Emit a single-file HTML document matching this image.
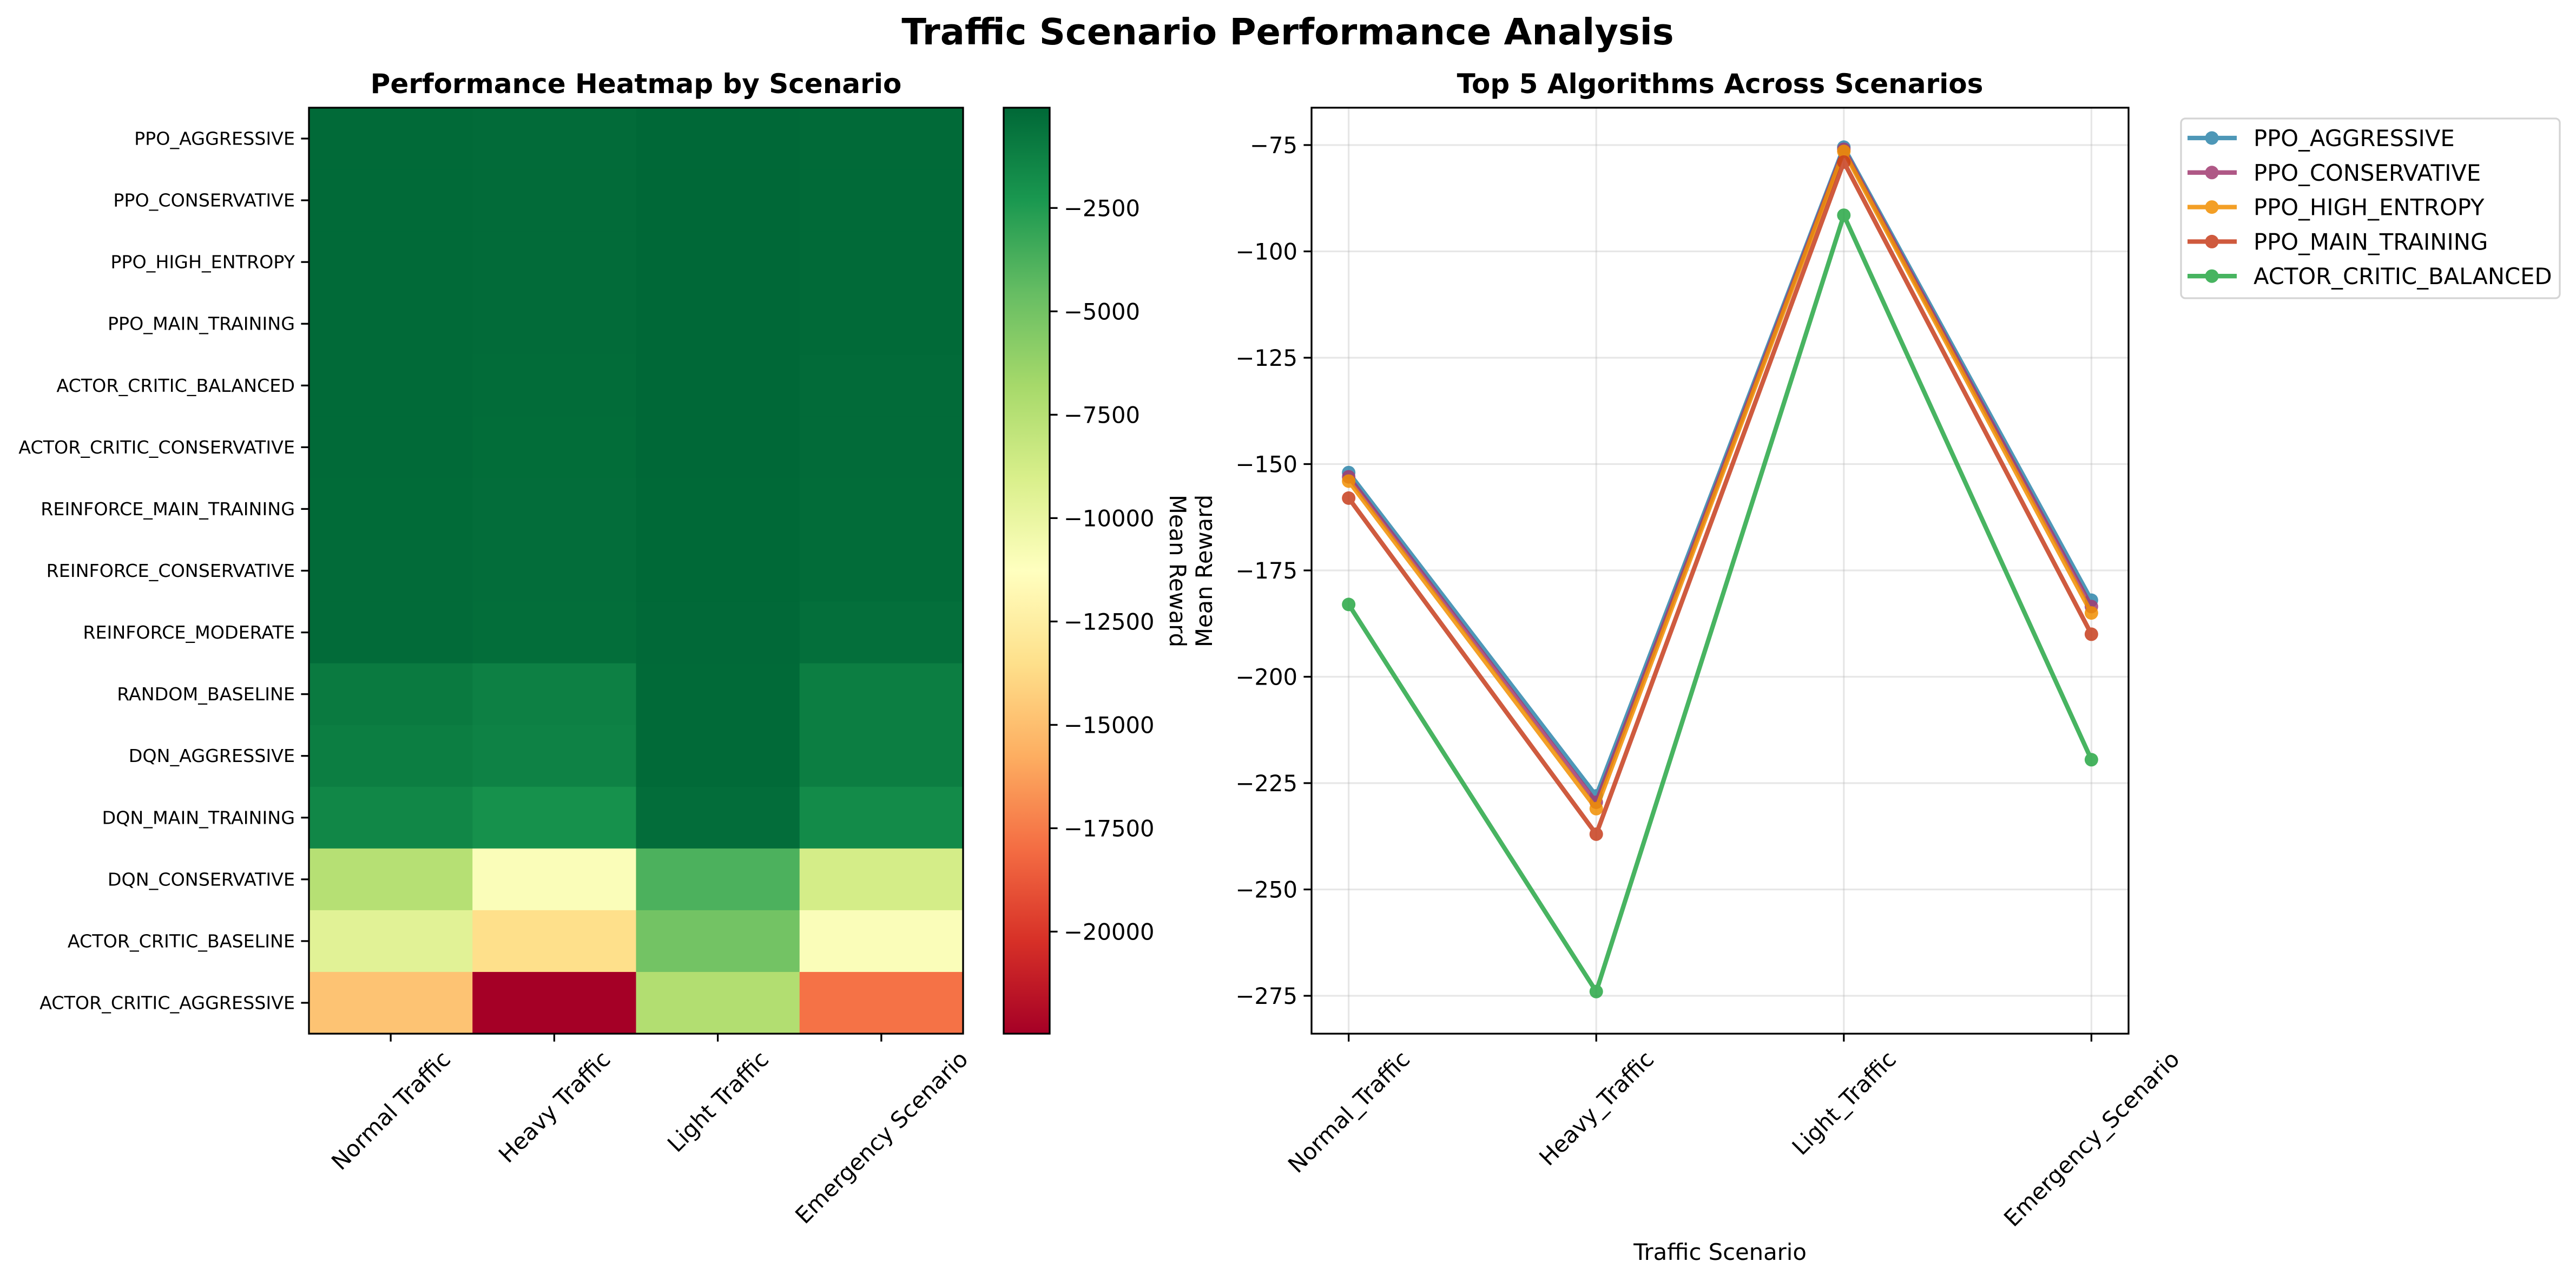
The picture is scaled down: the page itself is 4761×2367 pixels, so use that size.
<!DOCTYPE html>
<html><head><meta charset="utf-8"><style>
html,body{margin:0;padding:0;background:#fff;}
svg{display:block;font-family:"DejaVu Sans","Liberation Sans",sans-serif;}
</style></head><body>
<svg id="fig" width="4761" height="2367" viewBox="0 0 4761 2367" xmlns="http://www.w3.org/2000/svg">
<rect width="4761" height="2367" fill="#fff"/>
<text x="2380" y="82" font-size="67" font-weight="bold" text-anchor="middle">Traffic Scenario Performance Analysis</text>
<g id="heat"></g>
<g id="cbar"></g>
<g id="line"></g>
</svg>
<script>
// ---------- data ----------
const algorithms = ["PPO_AGGRESSIVE","PPO_CONSERVATIVE","PPO_HIGH_ENTROPY","PPO_MAIN_TRAINING","ACTOR_CRITIC_BALANCED","ACTOR_CRITIC_CONSERVATIVE","REINFORCE_MAIN_TRAINING","REINFORCE_CONSERVATIVE","REINFORCE_MODERATE","RANDOM_BASELINE","DQN_AGGRESSIVE","DQN_MAIN_TRAINING","DQN_CONSERVATIVE","ACTOR_CRITIC_BASELINE","ACTOR_CRITIC_AGGRESSIVE"];
const heatScenarios = ["Normal Traffic","Heavy Traffic","Light Traffic","Emergency Scenario"];
const heatNormal = [-152,-153,-154,-158,-183,-190,-200,-210,-230,-900,-1100,-1500,-7500,-9500,-14800];
const heatHeavy = [-228,-229,-231,-237,-274,-290,-300,-320,-350,-1200,-1300,-2000,-11000,-13500,-22468];
const heatLight = [-75,-76,-77,-79,-92,-95,-100,-105,-120,-180,-180,-300,-3800,-5000,-7300];
const heatEmergency = [-182,-184,-185,-190,-219,-230,-240,-250,-400,-1100,-1100,-1700,-8800,-11000,-17800];
const cbarTicks = [-2500,-5000,-7500,-10000,-12500,-15000,-17500,-20000];

const lineScenarios = ["Normal_Traffic","Heavy_Traffic","Light_Traffic","Emergency_Scenario"];
const seriesNames = ["PPO_AGGRESSIVE","PPO_CONSERVATIVE","PPO_HIGH_ENTROPY","PPO_MAIN_TRAINING","ACTOR_CRITIC_BALANCED"];
const ppoAggressive = [-152,-228,-75.5,-182];
const ppoConservative = [-153,-229.5,-76,-183.5];
const ppoHighEntropy = [-154,-231,-76.5,-185];
const ppoMainTraining = [-158,-237,-79,-190];
const actorCriticBalanced = [-183,-274,-91.5,-219.5];
const yTicks = [-75,-100,-125,-150,-175,-200,-225,-250,-275];

const NS="http://www.w3.org/2000/svg";
function mk(parent,tag,attrs,text){const e=document.createElementNS(NS,tag);for(const k in attrs)e.setAttribute(k,attrs[k]);if(text!==undefined)e.textContent=text;parent.appendChild(e);return e;}

// RdYlGn
const RdYlGn=["#a50026","#d73027","#f46d43","#fdae61","#fee08b","#ffffbf","#d9ef8b","#a6d96a","#66bd63","#1a9850","#006837"];
function hex2(c){return [parseInt(c.substr(1,2),16),parseInt(c.substr(3,2),16),parseInt(c.substr(5,2),16)];}
function cmap(t){t=Math.max(0,Math.min(1,t));const p=t*10,i=Math.min(9,Math.floor(p)),f=p-i;const a=hex2(RdYlGn[i]),b=hex2(RdYlGn[i+1]);return "rgb("+a.map((v,k)=>Math.round(v+(b[k]-v)*f)).join(",")+")";}

// ---------- heatmap ----------
const H=document.getElementById('heat');
const hx0=571,hx1=1780,hy0=199,hy1=1910;
const vmin=-22468,vmax=-75;
const cols=[heatNormal,heatHeavy,heatLight,heatEmergency];
const cw=(hx1-hx0)/heatScenarios.length, rh=(hy1-hy0)/algorithms.length;
const hX=j=>hx0+j*cw, hY=i=>hy0+i*rh;
mk(H,'text',{x:(hx0+hx1)/2,y:172,'font-size':50,'font-weight':'bold','text-anchor':'middle',},'Performance Heatmap by Scenario');
cols.forEach((col,j)=>{col.forEach((v,i)=>{
  const r=mk(H,'rect',{x:hX(j),y:hY(i),width:cw+0.6,height:rh+0.6,fill:cmap((v-vmin)/(vmax-vmin))});
  
  
});});
mk(H,'rect',{x:hx0,y:hy0,width:hx1-hx0,height:hy1-hy0,fill:'none',stroke:'#000','stroke-width':3.3,});
algorithms.forEach((a,i)=>{const y=hY(i)+rh/2;
  mk(H,'line',{x1:hx0,x2:hx0-14.6,y1:y,y2:y,stroke:'#000','stroke-width':3.3});
  const t=mk(H,'text',{x:hx0-26,y:y+11.5,'font-size':33.3,'text-anchor':'end'},a);
  
  
});
function rotLabel(g,cx,top,label,fs,name){
  const t=mk(g,'text',{x:0,y:0,'font-size':fs,'text-anchor':'middle'},label);
  
  
  const L=t.getComputedTextLength(), h=fs*0.76;
  const bh=(L+h)*Math.SQRT1_2;
  const cy=top+bh/2;
  t.setAttribute('transform','translate('+cx+','+(cy)+') rotate(-45)');
  t.setAttribute('dy',h/2*0.95);
}
heatScenarios.forEach((s,j)=>{const x=hX(j)+cw/2;
  mk(H,'line',{x1:x,x2:x,y1:hy1,y2:hy1+14.6,stroke:'#000','stroke-width':3.3});
  rotLabel(H,x,hy1+28,s,41.7,'heatmap-x-label');
});

// ---------- colorbar ----------
const C=document.getElementById('cbar');
const cx0=1855,cx1=1940;
const grad=mk(C,'defs',{});
const lg=mk(grad,'linearGradient',{id:'rg',x1:0,y1:1,x2:0,y2:0});
for(let k=0;k<=10;k++)mk(lg,'stop',{offset:(k/10),'stop-color':RdYlGn[k]});
mk(C,'rect',{x:cx0,y:hy0,width:cx1-cx0,height:hy1-hy0,fill:'url(#rg)',stroke:'#000','stroke-width':3.3,});
const cY=v=>hy1-(v-vmin)/(vmax-vmin)*(hy1-hy0);
cbarTicks.forEach(v=>{const y=cY(v);
  mk(C,'line',{x1:cx1,x2:cx1+14.6,y1:y,y2:y,stroke:'#000','stroke-width':3.3});
  const t=mk(C,'text',{x:cx1+26,y:y+15,'font-size':41.7},'\u2212'+Math.abs(v));
  
  
});
mk(C,'text',{x:0,y:0,'font-size':41.7,'text-anchor':'middle',transform:'translate(2162,1055) rotate(90)',},'Mean Reward');

// ---------- line chart ----------
const G=document.getElementById('line');
const ax0=2424,ax1=3934,ay0=199,ay1=1910;
const xPx=i=>ax0+(i+0.15)*(ax1-ax0)/3.3;
const yPx=v=>268+(-75-v)*7.86;
mk(G,'text',{x:(ax0+ax1)/2,y:172,'font-size':50,'font-weight':'bold','text-anchor':'middle',},'Top 5 Algorithms Across Scenarios');
yTicks.forEach(v=>{const y=yPx(v);
  const gl=mk(G,'line',{x1:ax0,x2:ax1,y1:y,y2:y,stroke:'#b0b0b0','stroke-opacity':0.3,'stroke-width':3.3});
  
  
  mk(G,'line',{x1:ax0,x2:ax0-14.6,y1:y,y2:y,stroke:'#000','stroke-width':3.3});
  const t=mk(G,'text',{x:ax0-26,y:y+15,'font-size':41.7,'text-anchor':'end'},'\u2212'+Math.abs(v));
  
  
});
lineScenarios.forEach((s,i)=>{const x=xPx(i);
  const gl=mk(G,'line',{x1:x,x2:x,y1:ay0,y2:ay1,stroke:'#b0b0b0','stroke-opacity':0.3,'stroke-width':3.3});
  
  
  mk(G,'line',{x1:x,x2:x,y1:ay1,y2:ay1+14.6,stroke:'#000','stroke-width':3.3});
  rotLabel(G,x,ay1+28,s,41.7,'x-tick-label');
});
const seriesData=[ppoAggressive,ppoConservative,ppoHighEntropy,ppoMainTraining,actorCriticBalanced];
const colors=["#2E86AB","#A23B72","#F18F01","#C73E1D","#28A745"];
seriesData.forEach((d,k)=>{
  const g=mk(G,'g',{opacity:0.85});
  
  
  mk(g,'polyline',{points:d.map((v,i)=>xPx(i)+','+yPx(v)).join(' '),fill:'none',stroke:colors[k],'stroke-width':8.3,'stroke-linejoin':'round'});
  d.forEach((v,i)=>{const c=mk(g,'circle',{cx:xPx(i),cy:yPx(v),r:12.5,fill:colors[k]});
    
    });
});
mk(G,'rect',{x:ax0,y:ay0,width:ax1-ax0,height:ay1-ay0,fill:'none',stroke:'#000','stroke-width':3.3,});
mk(G,'text',{x:0,y:0,'font-size':41.7,'text-anchor':'middle',transform:'translate(2240,1055) rotate(-90)',},'Mean Reward');
mk(G,'text',{x:(ax0+ax1)/2,y:2328,'font-size':41.7,'text-anchor':'middle',},'Traffic Scenario');

// legend
const Lg=mk(G,'g',{});


mk(Lg,'rect',{x:4031,y:219,width:700,height:332,rx:8,fill:'#fff','fill-opacity':0.8,stroke:'#d4d4d4','stroke-width':3.3});
seriesNames.forEach((n,k)=>{const y=255+k*63.8;
  const e=mk(Lg,'g',{});
  
  
  const m=mk(e,'g',{opacity:0.85});
  mk(m,'line',{x1:4043,x2:4134,y1:y,y2:y,stroke:colors[k],'stroke-width':8.3});
  mk(m,'circle',{cx:4088,cy:y,r:12.5,fill:colors[k]});
  mk(e,'text',{x:4165,y:y+15,'font-size':41.7},n);
});
</script>
</body></html>
